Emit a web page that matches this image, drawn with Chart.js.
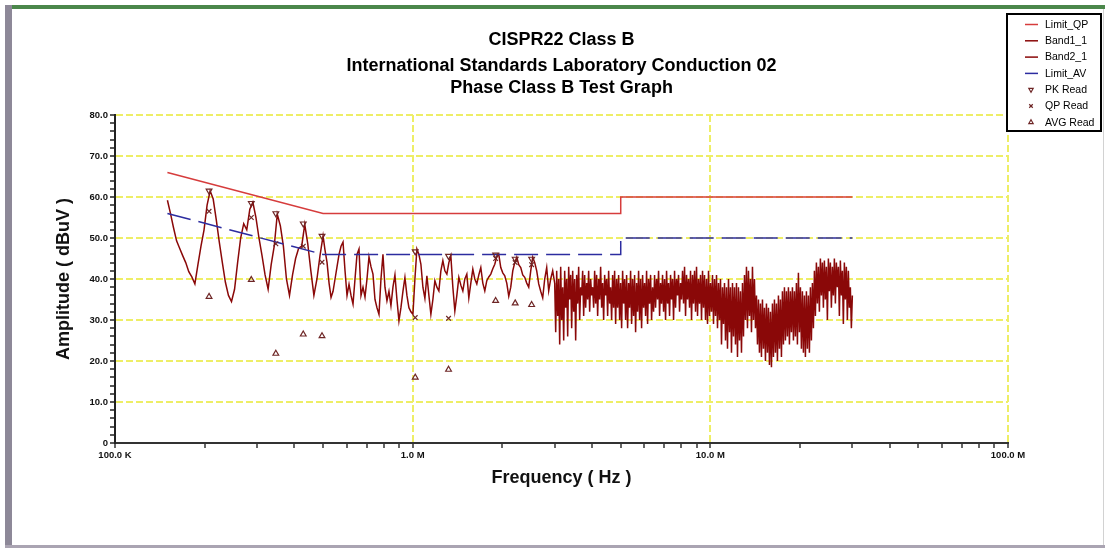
<!DOCTYPE html>
<html>
<head>
<meta charset="utf-8">
<title>CISPR22 Class B</title>
<script src="https://cdn.jsdelivr.net/npm/chart.js@4.4.1/dist/chart.umd.min.js"></script>
<style>
  html, body { margin: 0; padding: 0; background: #fff; }
  canvas { display: block; }
</style>
</head>
<body>
<canvas id="emi" width="1111" height="549"></canvas>
<script>
// 제목
const titleLines = ["CISPR22 Class B", "International Standards Laboratory Conduction 02", "Phase Class B Test Graph"];

// 한계선 (MHz / dBuV)
const limitFreq = [0.15, 0.5, 5, 5, 30];
const limitQP = [66, 56, 56, 60, 60];
const limitAV = [56, 46, 46, 50, 50];

// 측정 트레이스 : 구간 시작/끝 주파수 + 그림에서 읽은 레벨
const sweepA = { start: 0.15, stop: 0.5 };
const levelsA = [
  59.2, 56, 52.5, 49.3, 47.5, 45.7, 44, 41.8, 40.5, 38.8,
  43.5, 48, 52, 58, 61.5, 59.5, 54.5, 49, 44, 39.2,
  36, 34.5, 37.5, 44, 50, 53.5, 52, 57, 58.7, 55,
  50, 45.7, 41, 37.5, 43.5, 48, 55.8, 53, 48, 40,
  36, 41, 45, 47.5, 48, 53.3, 48.5, 42, 36, 40,
  45.7, 50.5
];
const sweepB = { start: 0.5, stop: 3 };
const levelsB = [
  50.5, 47, 44, 39, 35.5, 37, 40, 43, 46, 48,
  49, 42, 36, 38.7, 36, 33.9, 40, 46, 47.3, 36,
  38, 35.6, 40, 45.4, 43, 41.2, 35, 33, 31.4, 40,
  46, 38, 34.7, 37, 33.5, 38, 41, 35, 29.8, 33,
  37, 40.4, 36, 33, 32, 31.4, 40, 47.3, 46, 43.6,
  38, 35.3, 40.8, 36, 31.4, 35, 39.6, 38, 37.1, 42,
  44.5, 42, 41.2, 44, 45.6, 38, 32.2, 36, 40.4, 38.5,
  37.1, 40, 41.2, 35.4, 39, 42.4, 40, 38.8, 41, 42.8,
  39, 37.1, 39.6, 40.5, 41.2, 42.5, 43.6, 45.5, 46, 42.8,
  41.5, 40.8, 39, 35.8, 38, 42, 44, 45.3, 43.5, 42.8,
  41, 40.4, 39, 38, 42, 45.3, 44, 42, 38.8, 37,
  35.4, 40, 42.8, 37.1, 40, 42, 39
];
const sweepC = { start: 3, stop: 30 };
const levelsC = [
  39, 27, 42, 31, 40, 24, 43, 30, 38, 25,
  42, 33, 40, 26, 43, 35, 41, 28, 42, 32,
  40, 25, 41, 34, 43, 30, 38, 36, 42, 31,
  41, 33, 39, 35, 42, 32, 40, 36, 38, 33,
  42, 34, 41, 31, 40, 35, 43, 33, 39, 30,
  41, 36, 40, 31, 42, 34, 38, 30, 41, 33,
  42, 29, 40, 33, 41, 30, 39, 28, 42, 34,
  40, 30, 41, 28, 39, 33, 42, 29, 40, 31,
  41, 27, 39, 32, 42, 30, 40, 28, 41, 33,
  39, 31, 42, 29, 40, 34, 41, 30, 38, 32,
  41, 33, 40, 35, 42, 31, 39, 34, 41, 32,
  40, 30, 42, 34, 39, 31, 41, 35, 40, 30,
  42, 33, 40, 36, 41, 32, 39, 35, 42, 34,
  43, 31, 41, 35, 40, 33, 42, 30, 41, 34,
  42, 32, 43, 31, 40, 34, 41, 30, 42, 33,
  41, 30, 40, 29, 42, 31, 39, 32, 41, 29,
  40, 31, 41, 28, 39, 30, 40, 24, 38, 29,
  39, 25, 38, 23, 40, 27, 38, 22, 39, 26,
  38, 24, 39, 21, 38, 25, 37, 22, 39, 26,
  41, 30, 43, 28, 42, 31, 40, 27, 43, 30,
  40, 28, 36, 24, 35, 22, 34, 21, 35, 23,
  33, 20, 34, 22, 33, 19, 32, 18.5, 34, 21,
  35, 22, 34, 20, 36, 23, 35, 21, 37, 24,
  38, 25, 37, 26, 38, 24, 37, 27, 38, 25,
  37, 26, 39, 24, 41.5, 27, 38, 23, 37, 22,
  36, 21, 37, 23, 36, 22, 38, 25, 39, 28,
  42, 31, 44, 34, 43, 32, 45, 36, 44, 33,
  44.5, 35, 43, 30, 45, 37, 44, 33, 43, 36,
  45, 34, 44, 38, 43, 31, 44.5, 36, 42, 29,
  44, 35, 43, 30, 42, 33, 38, 28, 36
];

// 판독 포인트 (MHz / dBuV)
const readFreq = [0.207, 0.287, 0.347, 0.429, 0.496, 1.02, 1.32, 1.90, 2.21, 2.51];
const pkRead = [61.5, 58.5, 56.0, 53.5, 50.5, 46.7, 45.6, 45.9, 44.9, 44.9];
const qpRead = [56.5, 55.0, 48.6, 48.0, 44.1, 30.6, 30.4, 45.0, 44.0, 43.5];
const avgRead = [35.7, 39.8, 21.8, 26.5, 26.1, 16.0, 17.9, 34.7, 34.1, 33.7];

// 축 눈금
const xDecades = [0.1, 1, 10, 100];
const xDecadeLabels = ["100.0 K", "1.0 M", "10.0 M", "100.0 M"];
const xMinorSteps = [2, 3, 4, 5, 6, 7, 8, 9];
const yMin = 0, yMax = 80, yMinorStep = 2, yMajorStep = 10;

// 데이터 변환
const pairs = (xs, ys) => xs.map((x, i) => ({ x: x, y: ys[i] }));
function sweep(range, levels) {
  const n = levels.length;
  const ratio = range.stop / range.start;
  return levels.map((v, i) => ({ x: range.start * Math.pow(ratio, i / (n - 1)), y: v }));
}
const band1 = sweep(sweepA, levelsA).concat(sweep(sweepB, levelsB).slice(1));
const band2 = sweep(sweepC, levelsC);

const xTicks = [];
xDecades.forEach((d, i) => {
  xTicks.push({ value: d, label: xDecadeLabels[i] });
  if (i < xDecades.length - 1) {
    xMinorSteps.forEach((m) => xTicks.push({ value: d * m, label: "" }));
  }
});

const gridYellow = "#eeee66";
const markColor = "#6e2626";

// 제목, 범례, 테두리
const decor = {
  id: "decor",
  beforeDraw(chart) {
    const c = chart.ctx;
    c.save();
    c.fillStyle = "#ffffff";
    c.fillRect(0, 0, chart.width, chart.height);
    c.fillStyle = "#4b874b"; // 위쪽 녹색 선
    c.fillRect(5, 5, 1100, 4);
    c.fillStyle = "#8d8898"; // 왼쪽
    c.fillRect(5, 5, 7, 543);
    c.fillStyle = "#aaa4b2"; // 아래쪽
    c.fillRect(5, 545, 1100, 3);
    c.fillStyle = "#d2d2d2"; // 오른쪽
    c.fillRect(1103, 9, 1, 536);
    c.restore();
  },
  afterDraw(chart) {
    const c = chart.ctx;
    const area = chart.chartArea;
    c.save();
    // 제목
    c.fillStyle = "#000";
    c.textAlign = "center";
    c.textBaseline = "middle";
    c.font = "bold 18px 'Liberation Sans', Arial, sans-serif";
    const cx = (area.left + area.right) / 2;
    const ty = [40, 66, 88];
    titleLines.forEach((t, i) => c.fillText(t, cx, ty[i]));

    // 범례
    const bx = 1007, by = 14, bw = 94, bh = 117;
    c.fillStyle = "#fff";
    c.fillRect(bx, by, bw, bh);
    c.lineWidth = 2;
    c.strokeStyle = "#000";
    c.strokeRect(bx, by, bw, bh);
    c.font = "10.5px 'Liberation Sans', Arial, sans-serif";
    c.textAlign = "left";
    chart.data.datasets.forEach((ds, i) => {
      const y = 24.5 + i * 16.3;
      if (ds.showLine === false) {
        c.strokeStyle = ds.borderColor;
        c.fillStyle = ds.backgroundColor;
        c.lineWidth = 1.2;
        Chart.helpers.drawPoint(c, {
          pointStyle: ds.pointStyle, rotation: ds.pointRotation || 0,
          radius: 2.5, borderWidth: 1.2
        }, 1031, y);
      } else {
        c.strokeStyle = ds.borderColor;
        c.lineWidth = 1.5;
        c.setLineDash([]);
        c.beginPath();
        c.moveTo(1025, y);
        c.lineTo(1038, y);
        c.stroke();
      }
      c.fillStyle = "#000";
      c.fillText(ds.label, 1045, y + 0.5);
    });
    c.restore();
  }
};

const lineSet = (label, data, color, extra) => Object.assign({
  label: label,
  data: data,
  borderColor: color,
  backgroundColor: color,
  borderWidth: 1.5,
  pointRadius: 0,
  tension: 0,
  fill: false
}, extra || {});

const markSet = (label, ys, style, rotation) => ({
  label: label,
  data: pairs(readFreq, ys),
  showLine: false,
  borderColor: markColor,
  backgroundColor: "rgba(0,0,0,0)",
  pointStyle: style,
  pointRotation: rotation,
  pointRadius: 3.3,
  pointBorderWidth: 1.2,
  order: 0
});

const config = {
  type: "line",
  data: {
    datasets: [
      lineSet("Limit_QP", pairs(limitFreq, limitQP), "#d63c3c", { order: 1 }),
      lineSet("Band1_1", band1, "#8a0808", { order: 2 }),
      lineSet("Band2_1", band2, "#8a0808", { order: 2 }),
      lineSet("Limit_AV", pairs(limitFreq, limitAV), "#2c2ca0", { order: 1, borderDash: [24, 8] }),
      markSet("PK Read", pkRead, "triangle", 180),
      markSet("QP Read", qpRead, "crossRot", 0),
      markSet("AVG Read", avgRead, "triangle", 0)
    ]
  },
  options: {
    responsive: false,
    animation: false,
    events: [],
    layout: { padding: { left: 49, right: 103, top: 115, bottom: 56 } },
    scales: {
      x: {
        type: "logarithmic",
        min: 0.1,
        max: 100,
        afterBuildTicks: (scale) => { scale.ticks = xTicks.map((t) => ({ value: t.value })); },
        afterFit: (scale) => { scale.height = 50; },
        ticks: {
          autoSkip: false,
          maxRotation: 0,
          padding: 2,
          color: "#111",
          font: { family: "'Liberation Sans', Arial", size: 9.5, weight: "bold" },
          callback: (v, i) => xTicks[i] ? xTicks[i].label : ""
        },
        grid: {
          color: (ctx) => (ctx.tick && xDecades.includes(ctx.tick.value)) ? gridYellow : "rgba(0,0,0,0)",
          lineWidth: 2,
          borderDash: [7, 3],
          tickColor: "#333",
          tickLength: 5,
          tickWidth: 1.5
        },
        border: { color: "#333", width: 2, dash: [7, 3] },
        title: {
          display: true,
          text: "Frequency ( Hz )",
          color: "#111",
          font: { family: "'Liberation Sans', Arial", size: 18, weight: "bold" }
        }
      },
      y: {
        min: yMin,
        max: yMax,
        afterFit: (scale) => { scale.width = 66; },
        ticks: {
          stepSize: yMinorStep,
          autoSkip: false,
          padding: 2,
          color: "#111",
          font: { family: "'Liberation Sans', Arial", size: 9.5, weight: "bold" },
          callback: (v) => (v % yMajorStep === 0) ? (v === 0 ? "0" : v.toFixed(1)) : ""
        },
        grid: {
          color: (ctx) => (ctx.tick && ctx.tick.value % yMajorStep === 0) ? gridYellow : "rgba(0,0,0,0)",
          lineWidth: 2,
          borderDash: [7, 3],
          tickColor: "#222",
          tickLength: 5,
          tickWidth: 1.5
        },
        border: { color: "#222", width: 2, dash: [7, 3] },
        title: {
          display: true,
          text: "Amplitude ( dBuV )",
          color: "#111",
          font: { family: "'Liberation Sans', Arial", size: 18, weight: "bold" }
        }
      }
    },
    plugins: {
      legend: { display: false },
      tooltip: { enabled: false },
      title: { display: false }
    }
  },
  plugins: [decor]
};

const ctx = document.getElementById("emi").getContext("2d");
const emiChart = new Chart(ctx, config);
</script>
</body>
</html>
